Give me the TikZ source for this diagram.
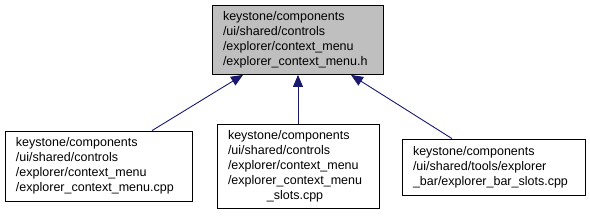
\documentclass[tikz,border=0pt]{standalone}
\usepackage{fontspec}
\setmainfont{Liberation Sans}
\usetikzlibrary{arrows.meta}

\definecolor{edgeblue}{RGB}{25,25,112}
\definecolor{hdrgray}{RGB}{191,191,191}

\tikzset{
  filebox/.style={draw=black, line width=0.8pt, fill=white, inner sep=0pt,
    align=left, font=\fontsize{12.5}{15}\selectfont},
  incl/.style={draw=edgeblue, line width=0.9pt,
    -{Triangle[length=12pt, width=10pt]}}
}

\begin{document}
\begin{tikzpicture}[x=1pt, y=-1pt]
        \useasboundingbox (0,0) rectangle (590,215);

        % Header file (included one)
        \node[filebox, fill=hdrgray, text width=149pt, minimum width=171pt, minimum height=69pt]
          (hdr) at (297.5,40) {keystone/components\\/ui/shared/controls\\/explorer/context\_menu\\/explorer\_context\_menu.h};

        % Files that include it
        \node[filebox, text width=165pt, minimum width=187pt, minimum height=70pt]
          (ctxcpp) at (98.5,166) {keystone/components\\/ui/shared/controls\\/explorer/context\_menu\\/explorer\_context\_menu.cpp};
        \node[filebox, text width=140pt, minimum width=162pt, minimum height=84pt]
          (slotscpp) at (298,166) {\begin{tabular}{@{}l@{}}keystone/components\\/ui/shared/controls\\/explorer/context\_menu\\/explorer\_context\_menu\\\multicolumn{1}{@{}c@{}}{\_slots.cpp}\end{tabular}};
        \node[filebox, text width=161pt, minimum width=183pt, minimum height=56pt]
          (barcpp) at (493.5,167) {keystone/components\\/ui/shared/tools/explorer\\\_bar/explorer\_bar\_slots.cpp};

        % Include edges
        \draw[incl] ([xshift=53.5pt]ctxcpp.north) -- ([xshift=-54.5pt]hdr.south);
        \draw[incl] (slotscpp.north) -- (slotscpp.north |- hdr.south);
        \draw[incl] ([xshift=-41.5pt]barcpp.north) -- ([xshift=53.5pt]hdr.south);
\end{tikzpicture}
\end{document}
